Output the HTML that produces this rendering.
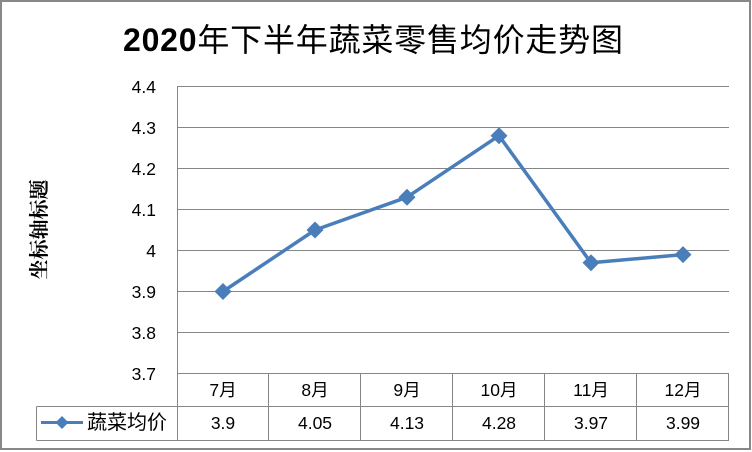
<!DOCTYPE html>
<html>
<head>
<meta charset="utf-8">
<style>
  html, body { margin: 0; padding: 0; background: #fff; }
  svg { display: block; }
  .num { font-family: "Liberation Sans", "Noto Sans CJK SC", sans-serif; font-size: 17.5px; fill: #000; }
  .cjk { font-family: "Liberation Sans", "Noto Sans CJK SC", sans-serif; fill: #000; }
</style>
</head>
<body>
<svg width="752" height="452" viewBox="0 0 752 452" xmlns="http://www.w3.org/2000/svg">
  <rect x="0" y="0" width="752" height="452" fill="#fff"/>
  <rect x="1" y="1" width="749" height="448" fill="#fff" stroke="#888" stroke-width="2"/>

  <!-- Title -->
  <text x="123" y="51" textLength="500" lengthAdjust="spacing" style="font-family:'Liberation Sans','Noto Sans CJK SC',sans-serif;font-size:32px;fill:#000;"><tspan font-weight="bold">2020</tspan><tspan>年下半年蔬菜零售均价走势图</tspan></text>

  <!-- Gridlines -->
  <g stroke="#868686" stroke-width="1" shape-rendering="crispEdges">
    <line x1="177" y1="86.5" x2="729" y2="86.5"/>
    <line x1="177" y1="127.5" x2="729" y2="127.5"/>
    <line x1="177" y1="168.5" x2="729" y2="168.5"/>
    <line x1="177" y1="209.5" x2="729" y2="209.5"/>
    <line x1="177" y1="250.5" x2="729" y2="250.5"/>
    <line x1="177" y1="291.5" x2="729" y2="291.5"/>
    <line x1="177" y1="332.5" x2="729" y2="332.5"/>
    <line x1="177" y1="373.5" x2="729" y2="373.5"/>
    <!-- table -->
    <line x1="36.5" y1="406.5" x2="729" y2="406.5"/>
    <line x1="36.5" y1="440.5" x2="729" y2="440.5"/>
    <line x1="36.5" y1="406.5" x2="36.5" y2="440.5"/>
    <line x1="177.5" y1="86" x2="177.5" y2="441"/>
    <line x1="268.5" y1="373" x2="268.5" y2="441"/>
    <line x1="360.5" y1="373" x2="360.5" y2="441"/>
    <line x1="452.5" y1="373" x2="452.5" y2="441"/>
    <line x1="544.5" y1="373" x2="544.5" y2="441"/>
    <line x1="636.5" y1="373" x2="636.5" y2="441"/>
    <line x1="728.5" y1="373" x2="728.5" y2="441"/>
  </g>

  <!-- Y axis labels -->
  <g class="num" text-anchor="end">
    <text x="156" y="93">4.4</text>
    <text x="156" y="134">4.3</text>
    <text x="156" y="175">4.2</text>
    <text x="156" y="216">4.1</text>
    <text x="156" y="257">4</text>
    <text x="156" y="298">3.9</text>
    <text x="156" y="339">3.8</text>
    <text x="156" y="380">3.7</text>
  </g>

  <!-- Y axis title -->
  <text transform="translate(46,229.5) rotate(-90)" text-anchor="middle" style="font-family:'Liberation Serif','Noto Serif CJK SC',serif;font-size:20px;font-weight:bold;fill:#000;">坐标轴标题</text>

  <!-- Category labels -->
  <g class="num" text-anchor="middle">
    <text x="223" y="396">7月</text>
    <text x="315" y="396">8月</text>
    <text x="407" y="396">9月</text>
    <text x="499" y="396">10月</text>
    <text x="591" y="396">11月</text>
    <text x="683" y="396">12月</text>
  </g>
  <!-- Values -->
  <g class="num" text-anchor="middle">
    <text x="223" y="429">3.9</text>
    <text x="315" y="429">4.05</text>
    <text x="407" y="429">4.13</text>
    <text x="499" y="429">4.28</text>
    <text x="591" y="429">3.97</text>
    <text x="683" y="429">3.99</text>
  </g>

  <!-- Legend -->
  <line x1="41" y1="422.5" x2="83" y2="422.5" stroke="#4A7EBB" stroke-width="3"/>
  <polygon points="62,416 68.5,422.5 62,429 55.5,422.5" fill="#4A7EBB"/>
  <text x="87" y="429" class="cjk" style="font-size:20px;">蔬菜均价</text>

  <!-- Series -->
  <polyline points="223,291.5 315,230 407,197.2 499,135.7 591,262.8 683,254.6" fill="none" stroke="#4A7EBB" stroke-width="3.5" stroke-linejoin="round"/>
  <g fill="#4A7EBB">
    <polygon points="223,283 231.5,291.5 223,300 214.5,291.5"/>
    <polygon points="315,221.5 323.5,230 315,238.5 306.5,230"/>
    <polygon points="407,188.7 415.5,197.2 407,205.7 398.5,197.2"/>
    <polygon points="499,127.2 507.5,135.7 499,144.2 490.5,135.7"/>
    <polygon points="591,254.3 599.5,262.8 591,271.3 582.5,262.8"/>
    <polygon points="683,246.1 691.5,254.6 683,263.1 674.5,254.6"/>
  </g>
</svg>
</body>
</html>
